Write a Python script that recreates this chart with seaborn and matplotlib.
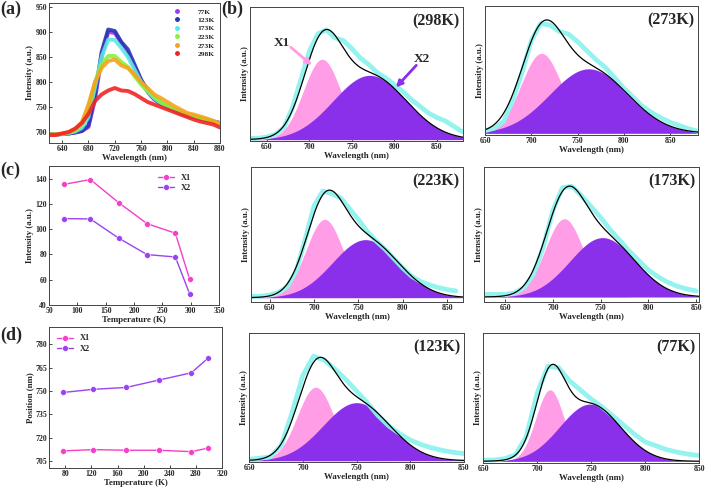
import matplotlib
matplotlib.use("Agg")
import matplotlib.pyplot as plt
import numpy as np
import pandas as pd
import seaborn as sns
from matplotlib.lines import Line2D

# ---- (a) temperature-dependent PL spectra ----
wl_a = [620, 630, 640, 650, 660, 670, 680, 690, 700, 710, 720, 730, 740, 750,
        760, 770, 780, 790, 800, 810, 820, 830, 840, 850, 860, 870, 880]
spec_temps = ["77K", "123K", "173K", "223K", "273K", "298K"]
spec_77 = [695, 695, 696, 697, 699, 702, 710, 765, 850, 900, 898, 878, 858, 830,
           800, 780, 765, 757, 750, 745, 738, 733, 730, 727, 724, 721, 718]
spec_123 = [695, 695, 696, 697, 699, 702, 713, 775, 860, 905, 902, 880, 865, 835,
            805, 783, 766, 757, 750, 744, 738, 733, 730, 727, 724, 721, 718]
spec_173 = [695, 695, 696, 698, 701, 708, 730, 790, 850, 885, 884, 868, 850, 825,
            800, 782, 767, 758, 751, 745, 739, 734, 731, 727, 724, 721, 717]
spec_223 = [695, 695, 696, 699, 703, 715, 745, 800, 835, 852, 852, 840, 830, 812,
            795, 782, 770, 760, 752, 746, 740, 735, 731, 728, 725, 722, 716]
spec_273 = [695, 695, 697, 700, 706, 720, 755, 800, 828, 842, 845, 833, 828, 815,
            800, 788, 775, 768, 760, 752, 745, 738, 735, 731, 727, 722, 716]
spec_298 = [694, 694, 697, 700, 707, 718, 736, 762, 775, 783, 788, 783, 782, 776,
            768, 760, 755, 750, 745, 740, 735, 730, 725, 721, 718, 715, 709]
spec_colors = ["#9b3bf2", "#2a35b0", "#5ce8e6", "#86f23a", "#f7a21c", "#f02424"]

# ---- (c) integrated intensity, (d) peak position ----
temps = [77, 123, 173, 223, 273, 298]
int_x1 = [135.5, 139.3, 121.0, 104.4, 96.8, 60.7]
int_x2 = [108.4, 108.1, 92.9, 79.9, 78.0, 49.0]
pos_x1 = [711.5, 712.3, 711.9, 711.9, 711.0, 713.2]
pos_x2 = [749.0, 751.0, 752.2, 756.9, 761.6, 770.8]

# ---- (b) Gaussian fits (relative intensity) ----
fit_labels = ["(298K)", "(273K)", "(223K)", "(173K)", "(123K)", "(77K)"]
x1_amp = [0.60, 0.62, 0.58, 0.58, 0.57, 0.55]
x1_cen = [715, 711, 712, 712, 712, 712]
x1_wid = [22, 22, 21, 20, 17, 13]
x2_amp = [0.48, 0.50, 0.43, 0.44, 0.45, 0.44]
x2_cen = [771, 762, 758, 752, 750, 749]
x2_wid = [43, 42, 37, 34, 31, 28]
data_start = [630, 650, 630, 630, 650, 650]
cyan_298 = [0.01, 0.01, 0.02, 0.04, 0.09, 0.24, 0.45, 0.66, 0.79, 0.82, 0.76, 0.74, 0.68,
            0.61, 0.56, 0.50, 0.46, 0.41, 0.36, 0.30, 0.25, 0.20, 0.165, 0.14, 0.10, 0.06]
cyan_273 = [0.02, 0.04, 0.09, 0.26, 0.47, 0.72, 0.85, 0.84, 0.79, 0.77, 0.71, 0.64,
            0.57, 0.51, 0.43, 0.35, 0.28, 0.21, 0.16, 0.12, 0.085, 0.06, 0.035, 0.015]
cyan_223 = [0.01, 0.01, 0.02, 0.04, 0.08, 0.20, 0.43, 0.68, 0.79, 0.77, 0.74, 0.66,
            0.58, 0.49, 0.42, 0.36, 0.29, 0.22, 0.16, 0.12, 0.095, 0.075, 0.06, 0.05]
cyan_173 = [0.02, 0.02, 0.02, 0.03, 0.07, 0.17, 0.37, 0.64, 0.81, 0.82, 0.75, 0.67,
            0.59, 0.50, 0.42, 0.34, 0.27, 0.20, 0.15, 0.11, 0.08, 0.06, 0.045]
cyan_123 = [0.01, 0.02, 0.03, 0.12, 0.37, 0.66, 0.81, 0.78, 0.71, 0.63, 0.54, 0.45,
            0.35, 0.27, 0.21, 0.16, 0.125, 0.10, 0.08, 0.065, 0.055]
cyan_77 = [0.01, 0.01, 0.02, 0.05, 0.19, 0.52, 0.73, 0.72, 0.62, 0.55, 0.48, 0.42,
           0.35, 0.28, 0.21, 0.15, 0.12, 0.09, 0.07, 0.055, 0.045]
cyan_all = [cyan_298, cyan_273, cyan_223, cyan_173, cyan_123, cyan_77]

sns.set_theme(style="ticks")
plt.rcParams["font.family"] = ["Liberation Serif", "DejaVu Serif"]
plt.rcParams["font.weight"] = "bold"
plt.rcParams["axes.labelweight"] = "bold"
plt.rcParams["xtick.direction"] = "in"
plt.rcParams["ytick.direction"] = "in"
plt.rcParams["axes.linewidth"] = 0.7
plt.rcParams["axes.edgecolor"] = "#444444"

W, H = 709, 494
fig = plt.figure(figsize=(W / 100, H / 100), dpi=100)


def box(l, t, r, b):
    return [l / W, 1 - b / H, (r - l) / W, (b - t) / H]


def style(ax, fs=5.6):
    ax.tick_params(labelsize=fs, length=2, width=0.6, pad=1.5)
    ax.xaxis.label.set_size(6.4)
    ax.yaxis.label.set_size(6.4)
    ax.xaxis.labelpad = 0.5
    ax.yaxis.labelpad = 1


# (a)
ax = fig.add_axes(box(49, 3, 220, 143))
spec = [spec_77, spec_123, spec_173, spec_223, spec_273, spec_298]
dfa = pd.DataFrame({"wl": wl_a * 6,
                    "I": sum(spec, []),
                    "T": sum([[t] * len(wl_a) for t in spec_temps], [])})
sns.lineplot(data=dfa, x="wl", y="I", hue="T", palette=spec_colors, lw=2.8,
             ax=ax, legend=False, alpha=0.9)
ax.set_xlim(620, 880)
ax.set_ylim(678, 958)
ax.set_xticks(range(640, 881, 40))
ax.set_yticks(range(700, 951, 50))
ax.set_xlabel("Wavelength (nm)")
ax.set_ylabel("Intensity (a.u.)")
handles = [Line2D([], [], ls="", marker="o", ms=2.5, color=c) for c in spec_colors]
ax.legend(handles, spec_temps, loc="upper right", frameon=False, fontsize=5.4,
          handletextpad=2.2, labelspacing=0.3, borderaxespad=0.3, handlelength=1)
style(ax)

# (c)
ax = fig.add_axes(box(49, 166, 219, 305))
dfc = pd.DataFrame({"T": temps * 2, "v": int_x1 + int_x2,
                    "s": ["X1"] * 6 + ["X2"] * 6})
sns.lineplot(data=dfc, x="T", y="v", hue="s", palette=["#f43fc8", "#9a44f0"],
             marker="o", ms=4.2, mec="white", mew=0.4, lw=1, ax=ax)
ax.set_xlim(50, 350)
ax.set_ylim(40, 150)
ax.set_xticks(range(50, 351, 50))
ax.set_yticks(range(40, 141, 20))
ax.set_xlabel("Temperature (K)")
ax.set_ylabel("Intensity (a.u.)")
ax.legend(title=None, loc="upper right", frameon=False, fontsize=6,
          bbox_to_anchor=(0.88, 1.0), handlelength=2, labelspacing=0.35)
style(ax)

# (d)
ax = fig.add_axes(box(49, 327, 222, 468))
dfd = pd.DataFrame({"T": temps * 2, "v": pos_x1 + pos_x2,
                    "s": ["X1"] * 6 + ["X2"] * 6})
sns.lineplot(data=dfd, x="T", y="v", hue="s", palette=["#f43fc8", "#9a44f0"],
             marker="o", ms=4.2, mec="white", mew=0.4, lw=1, ax=ax)
ax.set_xlim(55, 320)
ax.set_ylim(700.5, 791)
ax.set_xticks(range(80, 321, 40))
ax.set_yticks(range(705, 781, 15))
ax.set_xlabel("Temperature (K)")
ax.set_ylabel("Position (nm)")
ax.legend(title=None, loc="upper left", frameon=False, fontsize=6,
          handlelength=2, labelspacing=0.35)
style(ax)

# (b) fits
boxes = [(250, 7, 463, 141), (485, 6, 698, 135), (251, 167, 463, 302),
         (484, 167, 699, 302), (249, 333, 464, 462), (483, 333, 699, 463)]
xlims = [(630, 881), (650, 880), (629, 868), (628, 853), (650, 850), (650, 850)]
base_off = [0.01, 0.013, 0.032, 0.037, 0.01, 0.013]

for i in range(6):
    ax = fig.add_axes(box(*boxes[i]))
    lo, hi = xlims[i]
    x = np.linspace(lo, hi, 400)
    g1 = x1_amp[i] * np.exp(-(x - x1_cen[i]) ** 2 / (2 * x1_wid[i] ** 2))
    g2 = x2_amp[i] * np.exp(-(x - x2_cen[i]) ** 2 / (2 * x2_wid[i] ** 2))
    ax.fill_between(x, 0, g1, color="#ff9de6", lw=0)
    ax.fill_between(x, 0, g2, color="#8a30ea", lw=0)
    cy = cyan_all[i]
    wl = list(range(data_start[i], data_start[i] + 10 * len(cy), 10))
    sns.lineplot(x=wl, y=cy, color="#8ef3ee", lw=3.4, ax=ax, alpha=0.95)
    sns.lineplot(x=x, y=g1 + g2, color="black", lw=0.9, ax=ax)
    ax.set_xlim(lo, hi)
    ax.set_ylim(-base_off[i], 1 - base_off[i])
    ax.set_xticks(range(650, 851, 50))
    ax.set_yticks([])
    ax.set_xlabel("Wavelength (nm)")
    ax.set_ylabel("Intensity (a.u.)")
    ax.text(0.985, 0.95, fit_labels[i], transform=ax.transAxes, ha="right",
            va="top", fontsize=11.5, fontweight="bold")
    style(ax)
    if i == 0:
        ax.text(668, 0.72, "X1", fontsize=9.5, fontweight="bold",
                ha="center", va="center")
        ax.annotate("", xy=(703, 0.555), xytext=(678, 0.69),
                    arrowprops=dict(arrowstyle="-|>", color="#ff9de6", lw=2,
                                    shrinkA=0, shrinkB=0, mutation_scale=9))
        ax.text(833, 0.6, "X2", fontsize=9.5, fontweight="bold",
                ha="center", va="center")
        ax.annotate("", xy=(802, 0.39), xytext=(826, 0.555),
                    arrowprops=dict(arrowstyle="-|>", color="#8a30ea", lw=2,
                                    shrinkA=0, shrinkB=0, mutation_scale=9))

for lbl, (px, py) in zip(["(a)", "(b)", "(c)", "(d)"],
                         [(0, 1), (221, 1), (0, 162), (0, 327)]):
    fig.text(px / W, 1 - py / H, lbl, ha="left", va="top", fontsize=13,
             fontweight="bold")

fig.savefig("out.png", dpi=100)
